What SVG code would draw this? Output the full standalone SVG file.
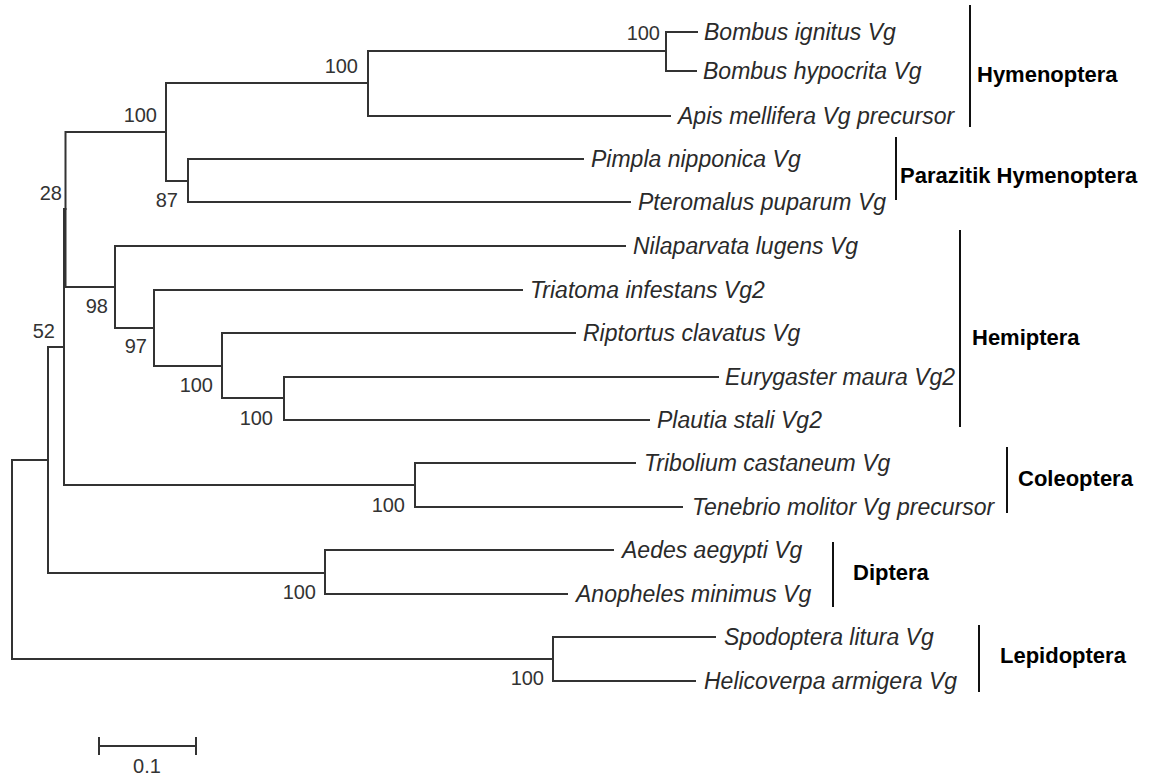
<svg xmlns="http://www.w3.org/2000/svg" width="1150" height="781" viewBox="0 0 1150 781">
<style>
.br{fill:none;stroke:#333;stroke-width:2;stroke-linecap:square}
.bar{fill:none;stroke:#111;stroke-width:2}
.tx{font-family:"Liberation Sans",Arial,sans-serif;font-style:italic;font-size:23px;fill:#2a2a2a}
.bs{font-family:"Liberation Sans",Arial,sans-serif;font-size:20px;fill:#333;text-anchor:end}
.gr{font-family:"Liberation Sans",Arial,sans-serif;font-weight:bold;font-size:22px;fill:#000}
</style>
<rect width="1150" height="781" fill="#fff"/>
<g id="connectors">
<path class="br" d="M12,460V659 M12,460H48 M12,659H553"/>
<path class="br" d="M48,347V573 M48,347H64 M48,573H325"/>
<path class="br" d="M64,209V485 M64,209H65.5 M64,485H415"/>
<path class="br" d="M65.5,132V287 M65.5,132H166 M65.5,287H115"/>
<path class="br" d="M166,83V181 M166,83H368 M166,181H188"/>
<path class="br" d="M368,51V116 M368,51H666 M368,116H670"/>
<path class="br" d="M666,32V71 M666,32H697 M666,71H696"/>
<path class="br" d="M188,159V202 M188,159H583 M188,202H630"/>
<path class="br" d="M115,246V328 M115,246H625 M115,328H154"/>
<path class="br" d="M154,290V366 M154,290H522 M154,366H222"/>
<path class="br" d="M222,333V398 M222,333H575 M222,398H284"/>
<path class="br" d="M284,377V420 M284,377H718 M284,420H649"/>
<path class="br" d="M415,463V507 M415,463H635 M415,507H682"/>
<path class="br" d="M325,550V594 M325,550H613 M325,594H567"/>
<path class="br" d="M553,637V681 M553,637H715 M553,681H695"/>
</g>
<g id="taxa">
<g id="t-bombus-ignitus"><text class="tx" x="704" y="40">Bombus ignitus Vg</text></g>
<g id="t-bombus-hypocrita"><text class="tx" x="703" y="79">Bombus hypocrita Vg</text></g>
<g id="t-apis"><text class="tx" x="678" y="124">Apis mellifera Vg precursor</text></g>
<g id="t-pimpla"><text class="tx" x="591" y="167">Pimpla nipponica Vg</text></g>
<g id="t-pteromalus"><text class="tx" x="638" y="210">Pteromalus puparum Vg</text></g>
<g id="t-nilaparvata"><text class="tx" x="633" y="254">Nilaparvata lugens Vg</text></g>
<g id="t-triatoma"><text class="tx" x="530" y="298">Triatoma infestans Vg2</text></g>
<g id="t-riptortus"><text class="tx" x="583" y="341">Riptortus clavatus Vg</text></g>
<g id="t-eurygaster"><text class="tx" x="725" y="385">Eurygaster maura Vg2</text></g>
<g id="t-plautia"><text class="tx" x="657" y="428">Plautia stali Vg2</text></g>
<g id="t-tribolium"><text class="tx" x="644" y="471">Tribolium castaneum Vg</text></g>
<g id="t-tenebrio"><text class="tx" x="692" y="515">Tenebrio molitor Vg precursor</text></g>
<g id="t-aedes"><text class="tx" x="622" y="558">Aedes aegypti Vg</text></g>
<g id="t-anopheles"><text class="tx" x="576" y="602">Anopheles minimus Vg</text></g>
<g id="t-spodoptera"><text class="tx" x="724" y="645">Spodoptera litura Vg</text></g>
<g id="t-helicoverpa"><text class="tx" x="704" y="689">Helicoverpa armigera Vg</text></g>
</g>
<g id="bootstrap">
<text class="bs" x="660" y="40">100</text>
<text class="bs" x="358" y="73">100</text>
<text class="bs" x="157" y="122">100</text>
<text class="bs" x="178" y="207">87</text>
<text class="bs" x="62" y="200">28</text>
<text class="bs" x="55" y="338">52</text>
<text class="bs" x="108" y="313">98</text>
<text class="bs" x="147" y="353">97</text>
<text class="bs" x="213" y="392">100</text>
<text class="bs" x="273" y="425">100</text>
<text class="bs" x="405" y="512">100</text>
<text class="bs" x="316" y="599">100</text>
<text class="bs" x="544" y="685">100</text>
</g>
<g id="groups">
<g id="g-hymenoptera"><path class="bar" d="M970,5V127"/><text class="gr" x="977" y="82">Hymenoptera</text></g>
<g id="g-parazitik"><path class="bar" d="M896,137V200"/><text class="gr" x="900" y="183">Parazitik Hymenoptera</text></g>
<g id="g-hemiptera"><path class="bar" d="M960,230V427"/><text class="gr" x="972" y="345">Hemiptera</text></g>
<g id="g-coleoptera"><path class="bar" d="M1007,447V513"/><text class="gr" x="1018" y="486">Coleoptera</text></g>
<g id="g-diptera"><path class="bar" d="M833,542V607"/><text class="gr" x="853" y="580">Diptera</text></g>
<g id="g-lepidoptera"><path class="bar" d="M979,625V692"/><text class="gr" x="1000" y="663">Lepidoptera</text></g>
</g>
<g id="scale">
<path class="br" d="M99,746H196 M99,738V754 M196,738V754"/>
<text class="bs" x="147" y="773" style="text-anchor:middle">0.1</text>
</g>
</svg>
